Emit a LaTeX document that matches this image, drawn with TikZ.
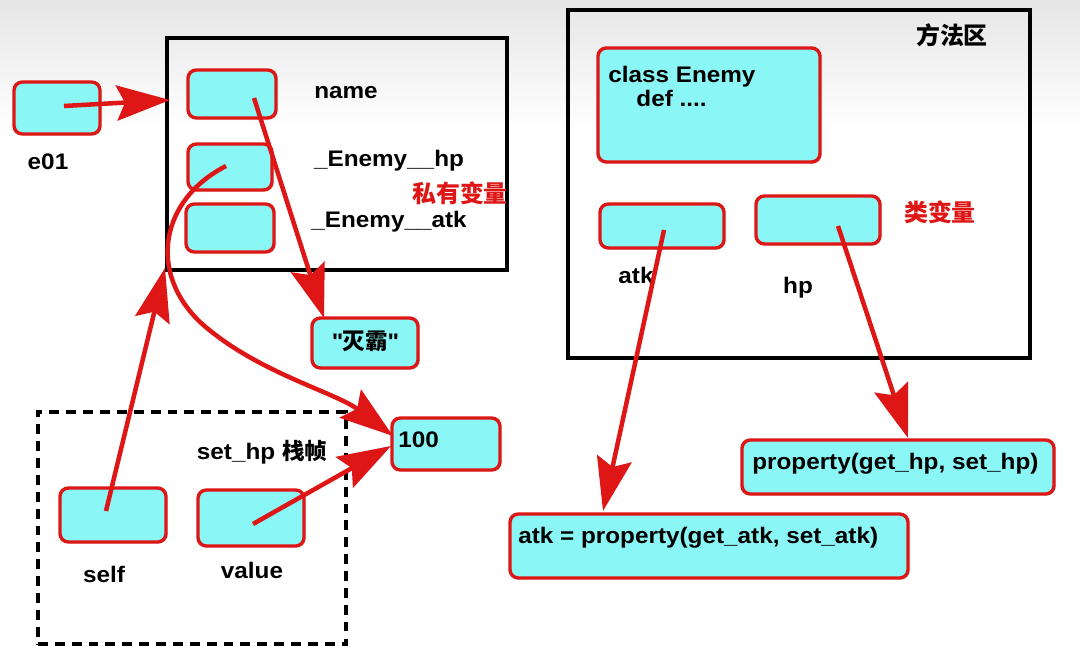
\documentclass[tikz,border=0pt]{standalone}
\usepackage{fontspec}
\setmainfont{Liberation Sans}[FakeStretch=1.08]
\newfontfamily\cjk{Noto Sans CJK SC}
\usetikzlibrary{arrows.meta,shadows,calc}
\definecolor{myred}{RGB}{222,22,22}
\definecolor{mycyan}{RGB}{138,246,246}
\begin{document}
\begin{tikzpicture}[x=0.025cm,y=-0.025cm,
  font=\fontsize{16}{19}\selectfont\bfseries,
  cell/.style={draw=myred, line width=2.4pt, fill=mycyan, rounded corners=6pt,
    drop shadow={opacity=0.3,shadow xshift=1.2pt,shadow yshift=-1.2pt}, inner sep=0pt},
  container/.style={draw=black, line width=3.2pt, inner sep=0pt},
  ptr/.style={draw=myred, line width=3.2pt, -{Stealth[length=38pt,width=25pt,inset=6pt]}},
  txt/.style={inner sep=0pt},
  cn/.style={inner sep=0pt, font=\cjk\fontsize{17}{20}\selectfont\bfseries},
  redcn/.style={cn, text=myred}]
\useasboundingbox (0,0) rectangle (1080,656);
\fill[white] (0,0) rectangle (1080,656);
\shade[top color=gray!20, bottom color=white] (0,0) rectangle (1080,130);

% containers
\node[container, minimum width=8.5cm, minimum height=5.8cm] (heap) at (337,154) {};
\node[container, dash pattern=on 7pt off 5pt, minimum width=7.7cm, minimum height=5.8cm] (stack) at (192,528) {};
\node[container, minimum width=11.55cm, minimum height=8.7cm] (method) at (799,184) {};

% cells
\node[cell, minimum width=2.15cm, minimum height=1.3cm] (e01) at (57,108) {};
\node[cell, minimum width=2.2cm, minimum height=1.2cm] (name) at (232,94) {};
\node[cell, minimum width=2.1cm, minimum height=1.15cm] (hpbox) at (230,167) {};
\node[cell, minimum width=2.2cm, minimum height=1.2cm] (atkbox) at (230,228) {};
\node[cell, minimum width=2.65cm, minimum height=1.25cm] (mieba) at (365,343) {};
\node[cell, minimum width=2.7cm, minimum height=1.3cm] (v100) at (446,444) {};
\node[cell, minimum width=2.65cm, minimum height=1.35cm] (self) at (113,515) {};
\node[cell, minimum width=2.65cm, minimum height=1.4cm] (value) at (251,518) {};
\node[cell, minimum width=5.55cm, minimum height=2.85cm] (cls) at (709,105) {};
\node[cell, minimum width=3.1cm, minimum height=1.1cm] (catk) at (662,226) {};
\node[cell, minimum width=3.1cm, minimum height=1.2cm] (chp) at (818,220) {};
\node[cell, minimum width=7.8cm, minimum height=1.35cm] (prophp) at (898,467) {};
\node[cell, minimum width=9.95cm, minimum height=1.6cm] (propatk) at (709,546) {};

% texts
\node[txt] (te01) at (48,162) {e01};
\node[txt] (tname) at (346,93) {name};
\node[txt] (thp) at (389,161) {\_Enemy\_\_hp};
\node[txt] (tatk) at (389,222) {\_Enemy\_\_atk};
\node[redcn] (tpriv) at (460,193) {私有变量};
\node[txt] (tmieba) at (365,341) {\textquotedbl{\cjk 灭霸}\textquotedbl};
\node[txt, anchor=west] (t100) at (398,440) {100};
\node[txt] (tsethp) at (262,452) {set\_hp {\cjk 栈帧}};
\node[txt] (tself) at (104,574) {self};
\node[txt] (tvalue) at (252,570) {value};
\node[cn] (tmethod) at (952,35) {方法区};
\node[txt, anchor=north west, align=left] (tcls) at (608,66) {class Enemy\\[-2pt]\hspace*{1.25em}def ....};
\node[txt] (tcatk) at (636,275) {atk};
\node[txt] (tchp) at (798,288) {hp};
\node[redcn] (tclsvar) at (940,212) {类变量};
\node[txt, anchor=west] (tprophp) at (752,464) {property(get\_hp, set\_hp)};
\node[txt, anchor=west] (tpropatk) at (518,538) {atk = property(get\_atk, set\_atk)};

% pointer coordinates
\coordinate (e01ptr) at (64,106);
\coordinate (heapin) at (170,100);
\coordinate (nameptr) at (254,98);
\coordinate (miebain) at (324,318);
\coordinate (hpptr) at (226,166);
\coordinate (selfptr) at (106,511);
\coordinate (heapbot) at (165,268);
\coordinate (valptr) at (253,524);
\coordinate (v100in) at (391,446);
\coordinate (v100in2) at (393,436);
\coordinate (catkptr) at (664,230);
\coordinate (propatkin) at (603,511);
\coordinate (chpptr) at (838,226);
\coordinate (prophpin) at (908,438);

% arrows
\draw[ptr] (e01ptr) -- (heapin);
\draw[ptr] (nameptr) -- (miebain);
\draw[ptr] (hpptr) .. controls (160,200) and (148,272) .. (200,322)
           .. controls (255,372) and (335,392) .. (v100in2);
\draw[ptr] (selfptr) -- (heapbot);
\draw[ptr] (valptr) -- (v100in);
\draw[ptr] (catkptr) -- (propatkin);
\draw[ptr] (chpptr) -- (prophpin);
\end{tikzpicture}
\end{document}
